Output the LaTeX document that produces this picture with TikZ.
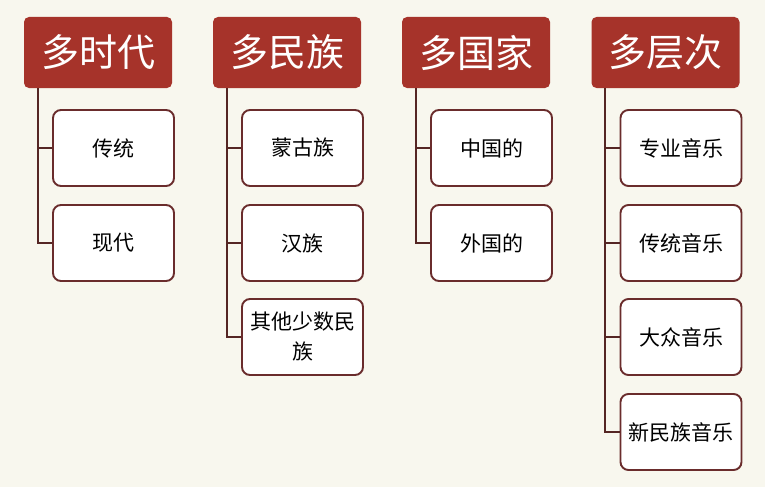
\documentclass[tikz,border=0pt]{standalone}
\usepackage{fontspec}
\setmainfont{Noto Sans CJK SC}
\newfontfamily\cjk{Noto Sans CJK SC}
\definecolor{bgc}{HTML}{F8F7EE}
\definecolor{hdr}{HTML}{A6332A}
\definecolor{brd}{HTML}{6A2C2C}
\definecolor{lnc}{HTML}{552624}
\begin{document}
\begin{tikzpicture}[x=1pt,y=-1pt,
  header/.style={fill=hdr,rounded corners=5pt,minimum width=148pt,minimum height=71pt,inner sep=0pt,text=white,font=\cjk\fontsize{38}{40}\selectfont},
  item/.style={draw=brd,line width=1.9pt,fill=white,rounded corners=8pt,minimum width=121pt,minimum height=76pt,inner sep=0pt,text=black,align=center,font=\cjk\fontsize{21}{30}\selectfont},
  conn/.style={draw=lnc,line width=2pt}]
\useasboundingbox (0,0) rectangle (765,487);
\fill[bgc] (0,0) rectangle (765,487);
% headers
\node[header] (h1) at (98,52.5) {多时代};
\node[header] (h2) at (287,52.5) {多民族};
\node[header] (h3) at (476,52.5) {多国家};
\node[header] (h4) at (665.5,52.5) {多层次};
% column 1
\node[item] (b11) at (113.5,148) {传统};
\node[item] (b12) at (113.5,243) {现代};
% column 2
\node[item] (b21) at (302.5,148) {蒙古族};
\node[item] (b22) at (302.5,243) {汉族};
\node[item] (b23) at (302.5,337) {其他少数民\\族};
% column 3
\node[item] (b31) at (491.5,148) {中国的};
\node[item] (b32) at (491.5,243) {外国的};
% column 4
\node[item] (b41) at (681,148) {专业音乐};
\node[item] (b42) at (681,243) {传统音乐};
\node[item] (b43) at (681,337) {大众音乐};
\node[item] (b44) at (681,432) {新民族音乐};
% connectors
\coordinate (s1) at ([xshift=14pt]h1.south west);
\coordinate (s2) at ([xshift=14pt]h2.south west);
\coordinate (s3) at ([xshift=14pt]h3.south west);
\coordinate (s4) at ([xshift=14pt]h4.south west);
\draw[conn] (s1) |- (b11.west);
\draw[conn] (s1) |- (b12.west);
\draw[conn] (s2) |- (b21.west);
\draw[conn] (s2) |- (b22.west);
\draw[conn] (s2) |- (b23.west);
\draw[conn] (s3) |- (b31.west);
\draw[conn] (s3) |- (b32.west);
\draw[conn] (s4) |- (b41.west);
\draw[conn] (s4) |- (b42.west);
\draw[conn] (s4) |- (b43.west);
\draw[conn] (s4) |- (b44.west);
\end{tikzpicture}
\end{document}
